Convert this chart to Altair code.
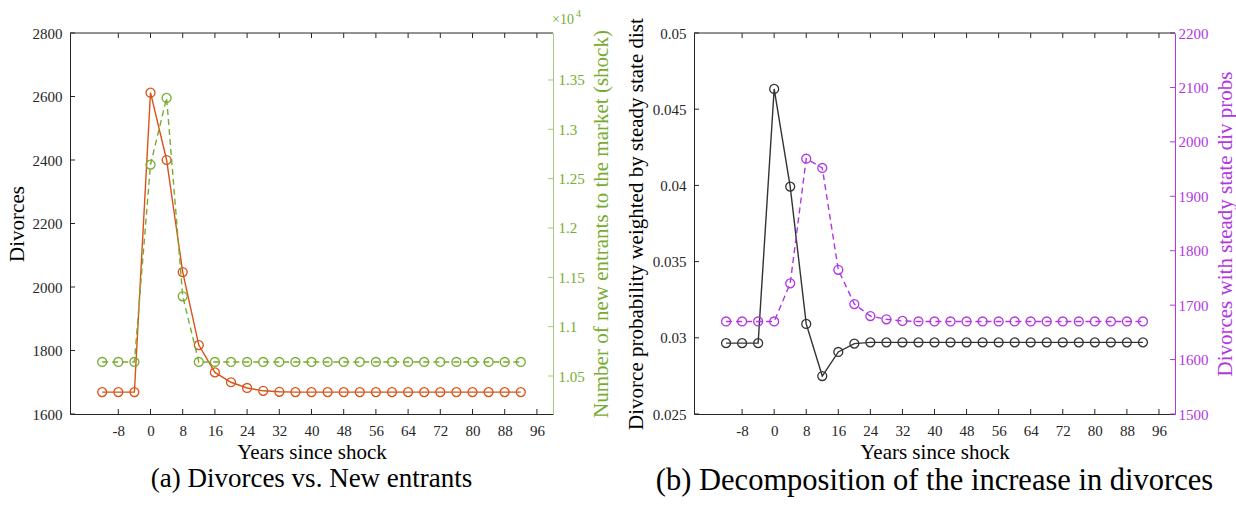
import altair as alt
import pandas as pd

# ---------------- data ----------------
years = [-12, -8, -4, 0, 4, 8, 12, 16, 20, 24, 28, 32, 36, 40, 44, 48,
         52, 56, 60, 64, 68, 72, 76, 80, 84, 88, 92]
divorces = [1669, 1669, 1669, 2612, 2400, 2047, 1817, 1731, 1700, 1682, 1673, 1670,
            1669, 1669, 1669, 1669, 1669, 1669, 1669, 1669, 1669, 1669, 1669, 1669,
            1669, 1669, 1669]
new_entrants = [10642, 10642, 10642, 12642, 13318, 11308, 10642, 10642, 10642, 10642,
                10642, 10642, 10642, 10642, 10642, 10642, 10642, 10642, 10642, 10642,
                10642, 10642, 10642, 10642, 10642, 10642, 10642]
div_prob = [0.02965, 0.02965, 0.02965, 0.04633, 0.03992, 0.03091, 0.02749, 0.02907,
            0.02962, 0.0297, 0.0297, 0.0297, 0.0297, 0.0297, 0.0297, 0.0297, 0.0297,
            0.0297, 0.0297, 0.0297, 0.0297, 0.0297, 0.0297, 0.0297, 0.0297, 0.0297, 0.0297]
div_ss = [1670, 1670, 1670, 1670, 1740, 1969, 1952, 1765, 1702, 1680, 1674, 1671,
          1670, 1670, 1670, 1670, 1670, 1670, 1670, 1670, 1670, 1670, 1670, 1670,
          1670, 1670, 1670]

x_ticks = [-8, 0, 8, 16, 24, 32, 40, 48, 56, 64, 72, 80, 88, 96]
div_ticks = [1600, 1800, 2000, 2200, 2400, 2600, 2800]
ent_ticks = [10500, 11000, 11500, 12000, 12500, 13000, 13500]
prob_ticks = [0.025, 0.03, 0.035, 0.04, 0.045, 0.05]
ss_ticks = [1500, 1600, 1700, 1800, 1900, 2000, 2100, 2200]

x_domain = [-20, 100]
div_domain = [1600, 2800]
ent_domain = [10115, 13976]
prob_domain = [0.025, 0.05]
ss_domain = [1500, 2200]

# ---------------- style ----------------
FONT = "Liberation Serif"
AX = "#262626"
ORANGE = "#D95319"
GREEN = "#77AC30"
GREEN_AX = "#A6CB80"
PURPLE = "#B236E3"
BLACK = "#333333"
W1, W2, H = 483, 481, 381
TICK = 5
MSIZE = 80
LFS = 15   # tick label font size
TFS = 21   # axis title font size

df = pd.DataFrame({"year": years, "divorces": divorces, "entrants": new_entrants,
                   "prob": div_prob, "ss": div_ss})
one = pd.DataFrame({"k": [0]})


def xs():
    return alt.Scale(domain=x_domain, nice=False, zero=False)


def ys(dom):
    return alt.Scale(domain=dom, nice=False, zero=False)


def tdf(vals):
    return pd.DataFrame({"v": vals})


def x_axis():
    return alt.Axis(values=x_ticks, ticks=False, grid=False, title="Years since shock",
                    labelExpr="datum.value + ''", labelPadding=9, titlePadding=3,
                    domainColor=AX, labelColor=AX, titleColor="#000000",
                    labelFlush=False, labelFont=FONT, titleFont=FONT,
                    labelFontSize=LFS, titleFontSize=TFS, titleFontWeight="normal")


def series(field, dom, color, dash, yaxis):
    line_kw = dict(color=color, strokeWidth=1.4)
    if dash:
        line_kw["strokeDash"] = [6, 4]
    line = alt.Chart(df).mark_line(**line_kw).encode(
        x=alt.X("year:Q", scale=xs(), axis=x_axis()),
        y=alt.Y(f"{field}:Q", scale=ys(dom), axis=yaxis),
    )
    pts = alt.Chart(df).mark_point(shape="circle", filled=False, size=MSIZE,
                                   strokeWidth=1.3, color=color, opacity=1).encode(
        x=alt.X("year:Q", scale=xs(), axis=x_axis()),
        y=alt.Y(f"{field}:Q", scale=ys(dom), axis=None),
    )
    return [line, pts]


def yticks(vals, dom, color, side, W):
    x0, x1 = (0, TICK) if side == "left" else (W, W - TICK)
    return alt.Chart(tdf(vals)).mark_rule(color=color, strokeWidth=1).encode(
        y=alt.Y("v:Q", scale=ys(dom), axis=None),
        x=alt.value(x0), x2=alt.value(x1),
    )


def frame_layers(W):
    xb = alt.Chart(tdf(x_ticks)).mark_rule(color=AX, strokeWidth=1).encode(
        x=alt.X("v:Q", scale=xs(), axis=x_axis()),
        y=alt.value(H), y2=alt.value(H - TICK),
    )
    xt = alt.Chart(tdf(x_ticks)).mark_rule(color=AX, strokeWidth=1).encode(
        x=alt.X("v:Q", scale=xs(), axis=x_axis()),
        y=alt.value(0), y2=alt.value(TICK),
    )
    top = alt.Chart(one).mark_rule(color=AX, strokeWidth=1).encode(
        x=alt.value(0), x2=alt.value(W), y=alt.value(0),
    )
    return [xb, xt, top]


def left_axis(title, vals, fmt_expr, lab_pad, tit_pad):
    return alt.Axis(orient="left", values=vals, ticks=False, grid=False, title=title,
                    labelPadding=lab_pad, titlePadding=tit_pad, domainColor=AX,
                    labelColor=AX, titleColor="#000000", labelFlush=False,
                    labelExpr=fmt_expr, labelFont=FONT, titleFont=FONT,
                    labelFontSize=LFS, titleFontSize=TFS, titleFontWeight="normal")


def right_axis(title, vals, fmt_expr, color, dom_color, lab_pad, tit_pad):
    return alt.Axis(orient="right", values=vals, ticks=False, grid=False, title=title,
                    labelPadding=lab_pad, titlePadding=tit_pad, domainColor=dom_color,
                    labelColor=color, titleColor=color, labelFlush=False,
                    labelExpr=fmt_expr, labelFont=FONT, titleFont=FONT,
                    labelFontSize=LFS, titleFontSize=TFS, titleFontWeight="normal",
                    titleAngle=270, titleBaseline="top")


def caption(text, size):
    return alt.TitleParams(text=text, orient="bottom", anchor="middle", font=FONT,
                           fontSize=size, fontWeight="normal", color="#000000", offset=4)


INT_EXPR = "datum.value + ''"

# ---------------- panel (a) ----------------
mult1 = alt.Chart(one).mark_text(text="×10", align="left", baseline="alphabetic",
                                 font=FONT, fontSize=14, color=GREEN).encode(
    x=alt.value(W1 - 1), y=alt.value(-9))
mult2 = alt.Chart(one).mark_text(text="4", align="left", baseline="alphabetic",
                                 font=FONT, fontSize=10, color=GREEN).encode(
    x=alt.value(W1 + 23), y=alt.value(-16))

a_layers = (
    series("divorces", div_domain, ORANGE, False,
           left_axis("Divorces", div_ticks, INT_EXPR, 8, 5))
    + series("entrants", ent_domain, GREEN, True,
             right_axis("Number of new entrants to the market (shock)", ent_ticks,
                        "format(datum.value / 10000, '.2~f')", GREEN, GREEN_AX, 5, 6))
    + [yticks(div_ticks, div_domain, AX, "left", W1),
       yticks(ent_ticks, ent_domain, GREEN_AX, "right", W1)]
    + frame_layers(W1)
    + [mult1, mult2]
)
panel_a = alt.layer(*a_layers).resolve_scale(y="independent").properties(
    width=W1, height=H, title=caption("(a) Divorces vs. New entrants", 27))

# ---------------- panel (b) ----------------
b_layers = (
    series("prob", prob_domain, BLACK, False,
           left_axis("Divorce probability weighted by steady state dist", prob_ticks,
                     "format(datum.value, '.3~f')", 8, 6))
    + series("ss", ss_domain, PURPLE, True,
             right_axis("Divorces with steady state div probs", ss_ticks, INT_EXPR,
                        PURPLE, PURPLE, 3, 6))
    + [yticks(prob_ticks, prob_domain, AX, "left", W2),
       yticks(ss_ticks, ss_domain, PURPLE, "right", W2)]
    + frame_layers(W2)
)
panel_b = alt.layer(*b_layers).resolve_scale(y="independent").properties(
    width=W2, height=H,
    title=caption("(b) Decomposition of the increase in divorces", 30.5))

chart = alt.hconcat(panel_a, panel_b, spacing=12).properties(
    padding={"left": 5, "top": 8, "right": 0, "bottom": 4},
    background="white",
).configure(font=FONT).configure_view(stroke="transparent").configure_axis(
    labelFont=FONT, titleFont=FONT, labelFontSize=LFS, titleFontSize=TFS,
    titleFontWeight="normal", domainWidth=1,
)

chart.save("out.html", embed_options={"renderer": "svg", "actions": False})
